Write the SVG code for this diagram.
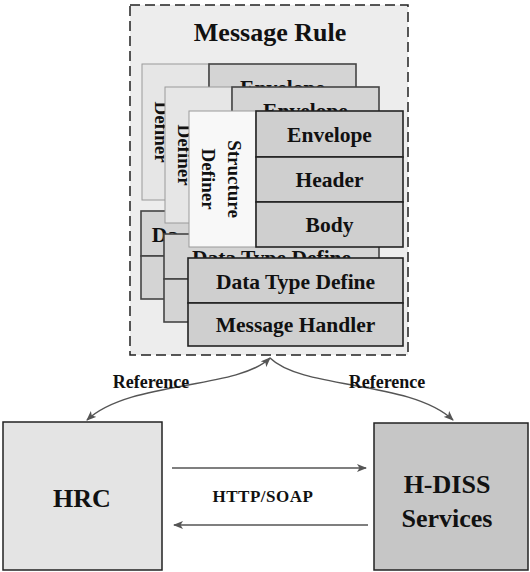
<svg xmlns="http://www.w3.org/2000/svg" width="530" height="572" viewBox="0 0 530 572">
<defs>
<marker id="ah" viewBox="0 0 10 8" refX="9" refY="4" markerWidth="10" markerHeight="8" markerUnits="userSpaceOnUse" orient="auto-start-reverse">
<path d="M0,0 L10,4 L0,8 L2.5,4 Z" fill="#555"/>
</marker>
</defs>
<style>
text{font-family:"Liberation Serif","Times New Roman",serif;font-weight:bold;fill:#111}
.row{fill:#cfcfcf;stroke:#222;stroke-width:1.6}
.def{fill:#f8f8f8;stroke:#9a9a9a;stroke-width:1}
.back .row{fill:#d4d4d4;stroke:#444}
.back .def{fill:#e6e6e6}
.rt{font-size:21.5px;text-anchor:middle}
.vt{font-size:19px;text-anchor:middle}
.con{fill:none;stroke:#555;stroke-width:1.5}
.big{font-size:26px;text-anchor:middle}
.lbl{font-size:18px;text-anchor:middle}
</style>
<rect width="530" height="572" fill="#ffffff"/>

<g id="message-rule">
<rect x="130" y="5" width="278" height="350" fill="#ededed" stroke="#222" stroke-width="1.5" stroke-dasharray="10,5"/>
<text x="270" y="41" font-size="26" text-anchor="middle">Message Rule</text>
</g>

<g id="layer-1" class="back" transform="translate(-47,-47)">
<rect class="def" x="189" y="111" width="67" height="136"/>
<rect class="row" x="256" y="111" width="147" height="46"/>
<rect class="row" x="256" y="157" width="147" height="45"/>
<rect class="row" x="256" y="202" width="147" height="45"/>
<text class="rt" x="329.5" y="142">Envelope</text>
<text class="vt" transform="translate(202,179) rotate(90)">Definer</text>
<rect class="row" x="188" y="258" width="215" height="45"/>
<rect class="row" x="188" y="303" width="215" height="43"/>
<text class="rt" x="212" y="289">Da</text>
</g>

<g id="layer-2" class="back" transform="translate(-24,-24)">
<rect class="def" x="189" y="111" width="67" height="136"/>
<rect class="row" x="256" y="111" width="147" height="46"/>
<rect class="row" x="256" y="157" width="147" height="45"/>
<rect class="row" x="256" y="202" width="147" height="45"/>
<text class="rt" x="329.5" y="142">Envelope</text>
<text class="vt" transform="translate(202,179) rotate(90)">Definer</text>
<rect class="row" x="188" y="258" width="215" height="45"/>
<rect class="row" x="188" y="303" width="215" height="43"/>
<text class="rt" x="295.5" y="289">Data Type Define</text>
</g>

<g id="layer-3">
<rect class="def" x="189" y="111" width="67" height="136"/>
<text class="vt" transform="translate(228,179) rotate(90)">Structure</text>
<text class="vt" transform="translate(202,179) rotate(90)">Definer</text>
<g id="envelope"><rect class="row" x="256" y="111" width="147" height="46"/><text class="rt" x="329.5" y="142">Envelope</text></g>
<g id="header"><rect class="row" x="256" y="157" width="147" height="45"/><text class="rt" x="329.5" y="187">Header</text></g>
<g id="body"><rect class="row" x="256" y="202" width="147" height="45"/><text class="rt" x="329.5" y="232">Body</text></g>
<g id="data-type-define"><rect class="row" x="188" y="258" width="215" height="45"/><text class="rt" x="295.5" y="289">Data Type Define</text></g>
<g id="message-handler"><rect class="row" x="188" y="303" width="215" height="43"/><text class="rt" x="295.5" y="332">Message Handler</text></g>
</g>

<g id="hrc">
<rect x="3" y="422" width="159" height="148" fill="#e4e4e4" stroke="#222" stroke-width="1.5"/>
<text class="big" x="82" y="507">HRC</text>
</g>

<g id="hdiss">
<rect x="374" y="423" width="154" height="147" fill="#c6c6c6" stroke="#222" stroke-width="1.5"/>
<text class="big" x="447" y="493">H-DISS</text>
<text class="big" x="447" y="527">Services</text>
</g>

<g id="connectors">
<path class="con" d="M270,358 C237,390 130,380 87,420" marker-start="url(#ah)" marker-end="url(#ah)"/>
<path class="con" d="M270,358 C303,390 410,380 453,420" marker-end="url(#ah)"/>
<path class="con" d="M172,468 L366,468" marker-end="url(#ah)"/>
<path class="con" d="M368,525 L174,525" marker-end="url(#ah)"/>
<text class="lbl" x="151" y="388">Reference</text>
<text class="lbl" x="387" y="388">Reference</text>
<text x="263" y="502" font-size="17" text-anchor="middle" letter-spacing="0.5">HTTP/SOAP</text>
</g>
</svg>
